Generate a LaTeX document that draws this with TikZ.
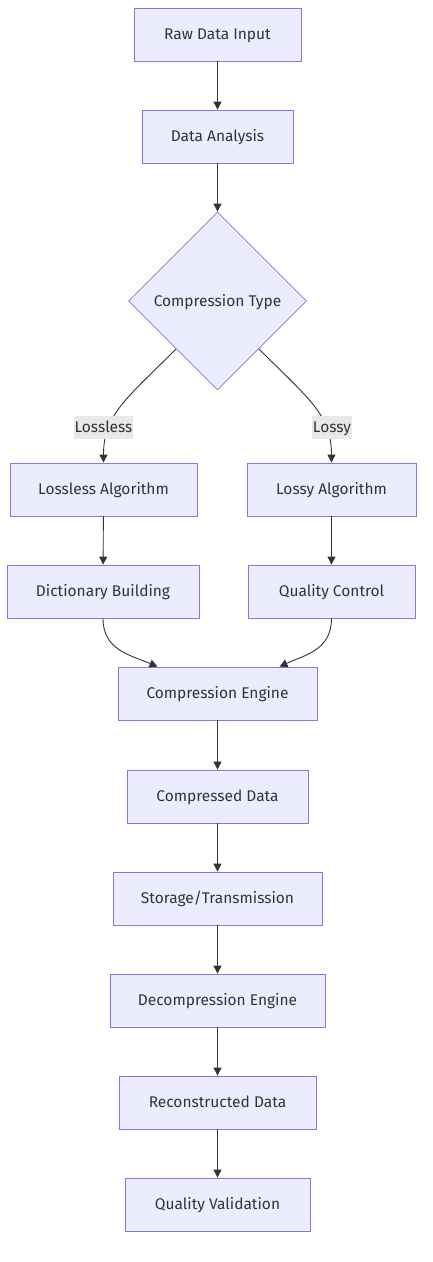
\documentclass[tikz,border=0pt]{standalone}
\usepackage{fontspec}
\setmainfont{Fira Sans}
\usetikzlibrary{arrows.meta,shapes.geometric}
\definecolor{nodefill}{HTML}{ECECFF}
\definecolor{nodeline}{HTML}{9370DB}
\definecolor{edgecol}{HTML}{333333}
\definecolor{labelbg}{HTML}{E8E8E8}
\tikzset{
  txt/.style={text=edgecol,font=\fontsize{15.5}{17}\selectfont,text height=11.5pt,text depth=1.5pt},
  box/.style={txt,draw=nodeline,fill=nodefill,line width=0.8pt,minimum height=53pt,inner sep=0pt},
  dia/.style={txt,diamond,draw=nodeline,fill=nodefill,line width=0.8pt,minimum width=178pt,minimum height=178pt,inner sep=0pt},
  arr/.style={draw=edgecol,line width=0.9pt,-{Triangle[length=8pt,width=8pt]}},
  elabel/.style={txt,fill=labelbg,inner xsep=1pt,inner ysep=5pt},
}
\begin{document}
\begin{tikzpicture}[x=1pt,y=-1pt]
\useasboundingbox (0,0) rectangle (432,1262);
\node[box,minimum width=167pt] (raw) at (217.5,34.5) {Raw Data Input};
\node[box,minimum width=151pt] (ana) at (217.5,136.5) {Data Analysis};
\node[dia] (type) at (217.5,301) {Compression Type};
\node[box,minimum width=187pt] (lla) at (103.5,489.5) {Lossless Algorithm};
\node[box,minimum width=169pt] (lya) at (331.5,489.5) {Lossy Algorithm};
\node[box,minimum width=192pt] (dict) at (103,591.5) {Dictionary Building};
\node[box,minimum width=167pt] (qc) at (331.5,591.5) {Quality Control};
\node[box,minimum width=199pt] (ce) at (217.5,693.5) {Compression Engine};
\node[box,minimum width=181pt] (cd) at (217.5,796.5) {Compressed Data};
\node[box,minimum width=209pt] (st) at (217.5,898.5) {Storage/Transmission};
\node[box,minimum width=215pt] (de) at (217.5,1000.5) {Decompression Engine};
\node[box,minimum width=197pt] (rd) at (217.5,1102.5) {Reconstructed Data};
\node[box,minimum width=185pt] (qv) at (217.5,1204.5) {Quality Validation};
\coordinate (tl) at (176,349);
\coordinate (tr) at (259,349);
\draw[arr] (raw) -- (ana);
\draw[arr] (ana) -- (type);
\draw[arr] (tl) .. controls (125,400) and (103.5,415) .. (lla.north);
\draw[arr] (tr) .. controls (310,400) and (331.5,415) .. (lya.north);
\node[elabel] (l1) at (103.5,427) {Lossless};
\node[elabel] (l2) at (332,427) {Lossy};
\draw[arr] (lla) -- (dict);
\draw[arr] (lya) -- (qc);
\draw[arr] (dict.south) .. controls (103,650) and (130,655) .. ([xshift=-60pt]ce.north);
\draw[arr] (qc.south) .. controls (331.5,650) and (305,655) .. ([xshift=62pt]ce.north);
\draw[arr] (ce) -- (cd);
\draw[arr] (cd) -- (st);
\draw[arr] (st) -- (de);
\draw[arr] (de) -- (rd);
\draw[arr] (rd) -- (qv);
\end{tikzpicture}
\end{document}
